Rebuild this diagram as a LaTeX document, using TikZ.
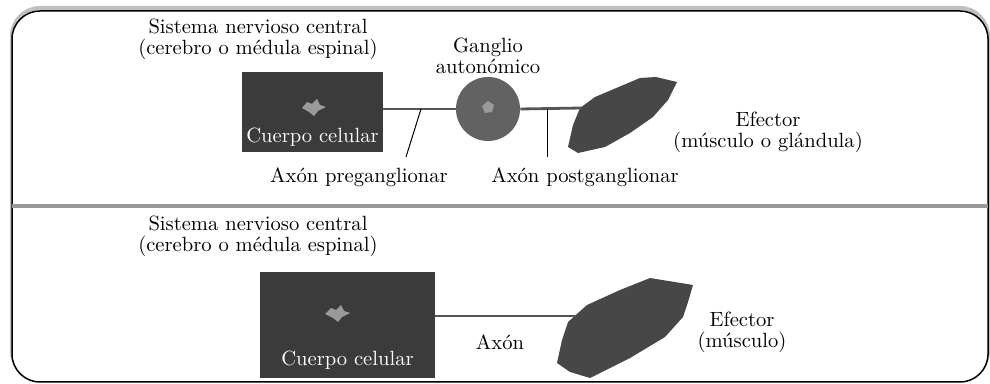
\documentclass[tikz,border=0pt]{standalone}
\definecolor{boxgray}{HTML}{3B3B3B}
\definecolor{organgray}{HTML}{474747}
\definecolor{ganggray}{HTML}{626262}
\definecolor{axongray}{HTML}{555555}
\definecolor{blobgray}{HTML}{9A9A9A}
\tikzset{
	lbl/.style={align=center, inner sep=0pt, font=\fontsize{10.3}{10.5}\selectfont},
	cellbox/.style={fill=boxgray, draw=none, inner sep=0pt},
	celltext/.style={text=white, inner sep=0pt, font=\fontsize{10.3}{10.5}\selectfont},
	axon/.style={draw=axongray, line width=1.4pt},
	pointer/.style={draw=black, line width=0.5pt},
}
\begin{document}
\begin{tikzpicture}[x=0.5pt, y=-0.5pt]
		\useasboundingbox (0,0) rectangle (990,384);
		% frame with shadow
		\draw[black!25, line width=2pt, rounded corners=14pt] (12,8) rectangle (988,379);
		\draw[fill=white, line width=0.75pt, rounded corners=14pt] (12,11) rectangle (988,382);
		\draw[black!40, line width=2pt] (12,206) -- (988,206);

		% upper panel: two neurons
		\node (snc1)[lbl] at (258,39) {Sistema nervioso central\\(cerebro o médula espinal)};
		\node (cns1)[cellbox, minimum width=70.5pt, minimum height=40pt] at (312.5,112) {};
		\fill[blobgray] (302,108) -- (307,102) -- (312,104) -- (317,99) -- (320,105) -- (326,107) -- (318,111) -- (314,116) -- (309,112) -- cycle;
		\node (cc1)[celltext] at (312.5,137) {Cuerpo celular};
		\node (gang)[circle, fill=ganggray, minimum size=32pt, inner sep=0pt] at (488,109) {};
		\fill[blobgray] (482,106) -- (488,101) -- (494,105) -- (492,112) -- (485,113) -- cycle;
		\node (gl)[lbl] at (488,56) {Ganglio\\autonómico};
		\fill[organgray] (568,147) -- (573,125) -- (580,108) -- (595,97) -- (640,78) -- (656,77) -- (677,82) -- (668,100) -- (653,117) -- (630,133) -- (605,147) -- (578,153) -- cycle;
		\coordinate (eff1) at (582,108);
		\draw[axon] (cns1.east |- gang.center) -- (gang.west);
		\draw[axon] (gang.east) -- (eff1);
		\node (efl1)[lbl] at (768,132) {Efector\\(músculo o glándula)};
		\node (pre)[lbl, anchor=north] at (359,167) {Axón preganglionar};
		\node (post)[lbl, anchor=north] at (585,167) {Axón postganglionar};
		\coordinate (pretip) at (421,109);
		\coordinate (preend) at (406,157);
		\coordinate (posttip) at (547,109);
		\coordinate (postend) at (547,157);
		\draw[pointer] (pretip) -- (preend);
		\draw[pointer] (posttip) -- (postend);

		% lower panel: one neuron
		\node (snc2)[lbl] at (258,236) {Sistema nervioso central\\(cerebro o médula espinal)};
		\node (cns2)[cellbox, minimum width=87.5pt, minimum height=53pt] at (347.5,325) {};
		\fill[blobgray] (325,314) -- (331,308) -- (336,310) -- (341,305) -- (344,311) -- (350,313) -- (342,317) -- (338,322) -- (333,318) -- cycle;
		\node (cc2)[celltext] at (347.5,360) {Cuerpo celular};
		\fill[organgray] (557,363) -- (562,340) -- (568,322) -- (587,305) -- (620,290) -- (650,278) -- (693,285) -- (688,302) -- (683,317) -- (665,337) -- (630,358) -- (590,378) -- (570,372) -- cycle;
		\coordinate (eff2) at (576,316);
		\draw[axon] (cns2.east |- eff2) -- (eff2);
		\node (ax)[lbl] at (500,342) {Axón};
		\node (efl2)[lbl] at (742,332) {Efector\\(músculo)};
	\end{tikzpicture}
\end{document}
